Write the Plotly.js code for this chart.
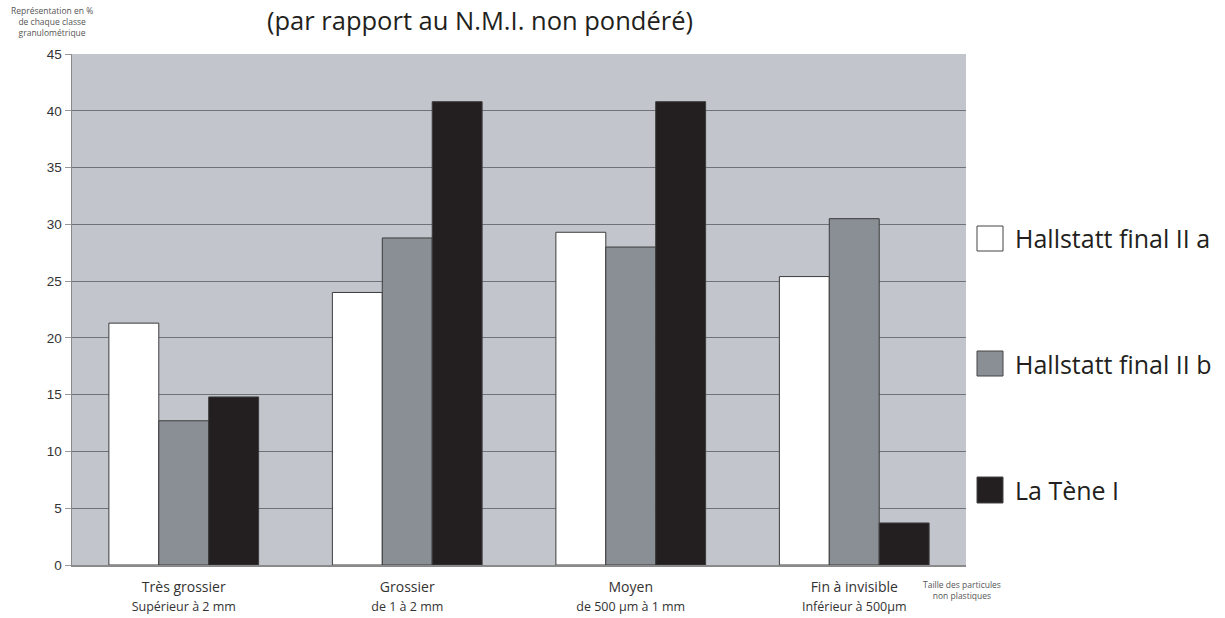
<!DOCTYPE html>
<html>
<head>
<meta charset="utf-8">
<script src="https://cdn.plot.ly/plotly-3.0.1.min.js"></script>
<style>html,body{margin:0;padding:0;background:#fff;}#chart{width:1225px;height:618px;}</style>
</head>
<body>
<div id="chart"></div>
<script>
// Data
const categories = ["Très grossier", "Grossier", "Moyen", "Fin à invisible"];
const subLabels = ["Supérieur à 2 mm", "de 1 à 2 mm", "de 500 µm à 1 mm", "Inférieur à 500µm"];
const seriesNames = ["Hallstatt final II a", "Hallstatt final II b", "La Tène I"];
const hallstattA = [21.3, 24.0, 29.3, 25.4];
const hallstattB = [12.7, 28.8, 28.0, 30.5];
const laTene = [14.8, 40.8, 40.8, 3.7];
const yTicks = [0, 5, 10, 15, 20, 25, 30, 35, 40, 45];

const colors = ["#ffffff", "#8a8f95", "#231f20"];
const values = [hallstattA, hallstattB, laTene];

const traces = values.map((v, i) => ({
  type: "bar",
  name: seriesNames[i],
  x: categories,
  y: v,
  marker: {color: colors[i], line: {color: "#3c3c3c", width: 1}},
  showlegend: false,
  hoverinfo: "x+y+name"
}));

const ticktext = categories.map((c, i) => c + "<br><span style='font-size:12.5px'>" + subLabels[i] + "</span>");

// geometry of plot area (pixels) for legend placement
const L = 72, R = 259, T = 54, B = 53, W = 1225, H = 618;
const pw = W - L - R, ph = H - T - B;
const px = x => (x - L) / pw;
const py = y => (H - B - y) / ph;

const legendRows = [
  {y0: 226, y1: 251},
  {y0: 351, y1: 376},
  {y0: 477, y1: 503}
];
const shapes = [];
const annotations = [];
legendRows.forEach((r, i) => {
  shapes.push({
    type: "rect", xref: "paper", yref: "paper",
    x0: px(977), x1: px(1003), y0: py(r.y1), y1: py(r.y0),
    fillcolor: colors[i], line: {color: "#444", width: 1}
  });
  annotations.push({
    xref: "paper", yref: "paper", x: px(1013), y: py((r.y0 + r.y1) / 2),
    xanchor: "left", yanchor: "middle", showarrow: false,
    text: seriesNames[i],
    font: {family: "Open Sans", size: 25, color: "#231f20"}
  });
});
annotations.push({
  xref: "paper", yref: "paper", x: px(52), y: py(21),
  xanchor: "center", yanchor: "middle", showarrow: false,
  text: "Représentation en %<br>de chaque classe<br>granulométrique",
  font: {family: "Open Sans", size: 8.5, color: "#555"}
});
annotations.push({
  xref: "paper", yref: "paper", x: px(962), y: py(590),
  xanchor: "center", yanchor: "middle", showarrow: false,
  text: "Taille des particules<br>non plastiques",
  font: {family: "Open Sans", size: 8.5, color: "#555"}
});

const layout = {
  width: W, height: H,
  margin: {l: L, r: R, t: T, b: B, pad: 0},
  paper_bgcolor: "#ffffff",
  plot_bgcolor: "#c2c5cc",
  title: {
    text: "(par rapport au N.M.I. non pondéré)",
    xref: "container", yref: "container",
    x: 480 / W, xanchor: "center",
    y: 1 - 30 / H, yanchor: "bottom",
    font: {family: "Open Sans", size: 25.5, color: "#231f20"}
  },
  barmode: "group",
  bargap: 0.33,
  bargroupgap: 0,
  font: {family: "Liberation Sans", color: "#333"},
  xaxis: {
    type: "category",
    tickvals: categories,
    ticktext: ticktext,
    ticks: "",
    ticklabelstandoff: 9,
    tickfont: {family: "Open Sans", size: 14, color: "#333"},
    showline: true, linecolor: "#8a8a8a", linewidth: 1.5,
    showgrid: false, zeroline: false,
    fixedrange: true
  },
  yaxis: {
    range: [0, 45],
    tickvals: yTicks,
    ticks: "outside", ticklen: 6, tickcolor: "#999",
    tickfont: {family: "Liberation Sans", size: 13.5, color: "#333"},
    showline: true, linecolor: "#8a8a8a", linewidth: 1.5,
    showgrid: true, gridcolor: "#6e7279", gridwidth: 1.2,
    zeroline: false,
    fixedrange: true
  },
  shapes: shapes,
  annotations: annotations,
  showlegend: false
};

Plotly.newPlot("chart", traces, layout, {displayModeBar: false, staticPlot: true});
</script>
</body>
</html>
